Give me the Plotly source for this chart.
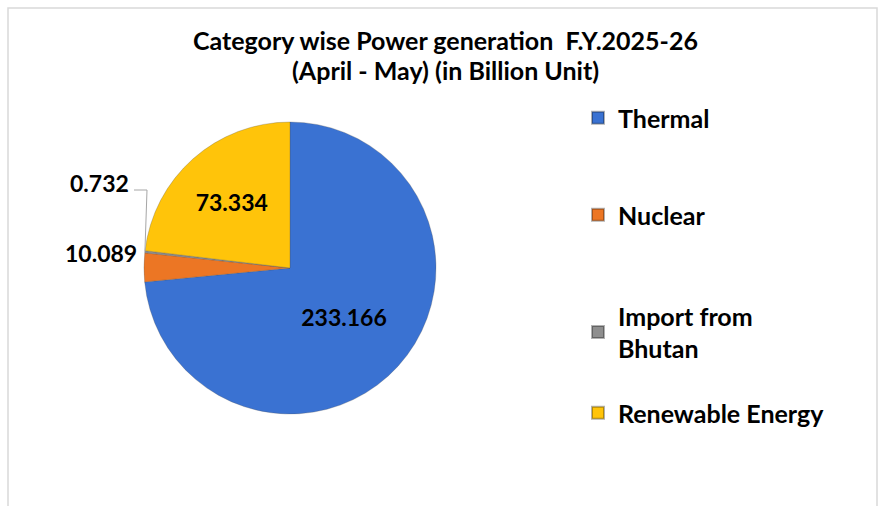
import math
import plotly.graph_objects as go

categories = ["Thermal", "Nuclear", "Import from Bhutan", "Renewable Energy"]
legend_labels = ["Thermal", "Nuclear", "Import from<br>Bhutan", "Renewable Energy"]
values = [233.166, 10.089, 0.732, 73.334]
colors = ["#3A72D2", "#EC7624", "#8E8E8E", "#FFC40A"]
title_lines = ["Category wise Power generation  F.Y.2025-26", "(April - May) (in Billion Unit)"]

W, H = 894, 506
FONT = "Lato"
CX, CY, R = 290, 268, 146

fig = go.Figure()

inside = [True, False, False, True]
fig.add_trace(go.Pie(
    labels=categories,
    values=values,
    sort=False,
    direction="clockwise",
    rotation=0,
    marker=dict(colors=colors, line=dict(color="rgba(80,80,80,0.35)", width=0.8)),
    texttemplate=["%{value}" if s else "" for s in inside],
    textposition=["inside" if s else "none" for s in inside],
    insidetextorientation="horizontal",
    textfont=dict(family=FONT, size=23, color="black", weight="bold"),
    domain=dict(x=[(CX - R) / W, (CX + R) / W], y=[(H - CY - R) / H, (H - CY + R) / H]),
    showlegend=False,
    hoverinfo="skip",
    automargin=False,
))

legend_y_px = [118, 215, 332, 413]
layout_legends = {}
for i, (lab, col) in enumerate(zip(legend_labels, colors)):
    lname = "legend" if i == 0 else f"legend{i+1}"
    fig.add_trace(go.Scatter(
        x=[None], y=[None], mode="markers", name=lab,
        marker=dict(symbol="square", size=12, color=col, line=dict(color="rgba(0,0,0,0.3)", width=0.5)),
        legend=lname, showlegend=True, hoverinfo="skip",
    ))
    layout_legends[lname] = dict(
        x=578 / W, y=1 - legend_y_px[i] / H, xanchor="left", yanchor="middle",
        font=dict(family=FONT, size=25, color="black", weight="bold"),
        bgcolor="rgba(0,0,0,0)", itemsizing="constant", itemwidth=30,
    )

annotations = []
for txt, ypx in zip(title_lines, [40, 70]):
    annotations.append(dict(
        text=txt, x=445 / W, y=1 - ypx / H, xref="paper", yref="paper",
        xanchor="center", yanchor="middle", showarrow=False,
        font=dict(family=FONT, size=25, color="black", weight="bold"),
    ))

# outside labels for the two small slices
total = sum(values)
cum = 0
mids = []
for v in values:
    mids.append((cum + v / 2) / total * 2 * math.pi)
    cum += v

label_font = dict(family=FONT, size=23, color="black", weight="bold")
annotations.append(dict(text=f"{values[1]:.3f}", x=139 / W, y=1 - 253 / H, xref="paper", yref="paper",
                        xanchor="right", yanchor="middle", showarrow=False, font=label_font))
annotations.append(dict(text=f"{values[2]:.3f}", x=131 / W, y=1 - 183 / H, xref="paper", yref="paper",
                        xanchor="right", yanchor="middle", showarrow=False, font=label_font))
ex = CX + R * math.sin(mids[2])
ey = CY - R * math.cos(mids[2])
leader = f"M {134 / W} {1 - 190 / H} L {147 / W} {1 - 190 / H} L {ex / W} {1 - ey / H}"

fig.update_layout(
    width=W, height=H,
    margin=dict(l=0, r=0, t=0, b=0),
    paper_bgcolor="white", plot_bgcolor="white",
    xaxis=dict(visible=False), yaxis=dict(visible=False),
    annotations=annotations,
    shapes=[
        dict(type="rect", xref="paper", yref="paper",
             x0=8 / W, x1=877 / W, y0=-0.02, y1=1 - 8 / H,
             line=dict(color="#D9D9D9", width=1.5)),
        dict(type="path", xref="paper", yref="paper", path=leader,
             line=dict(color="#A6A6A6", width=1)),
    ],
    **layout_legends,
)

fig.write_html("out.html", config={"displayModeBar": False},
               post_script="document.body.style.margin='0';")
